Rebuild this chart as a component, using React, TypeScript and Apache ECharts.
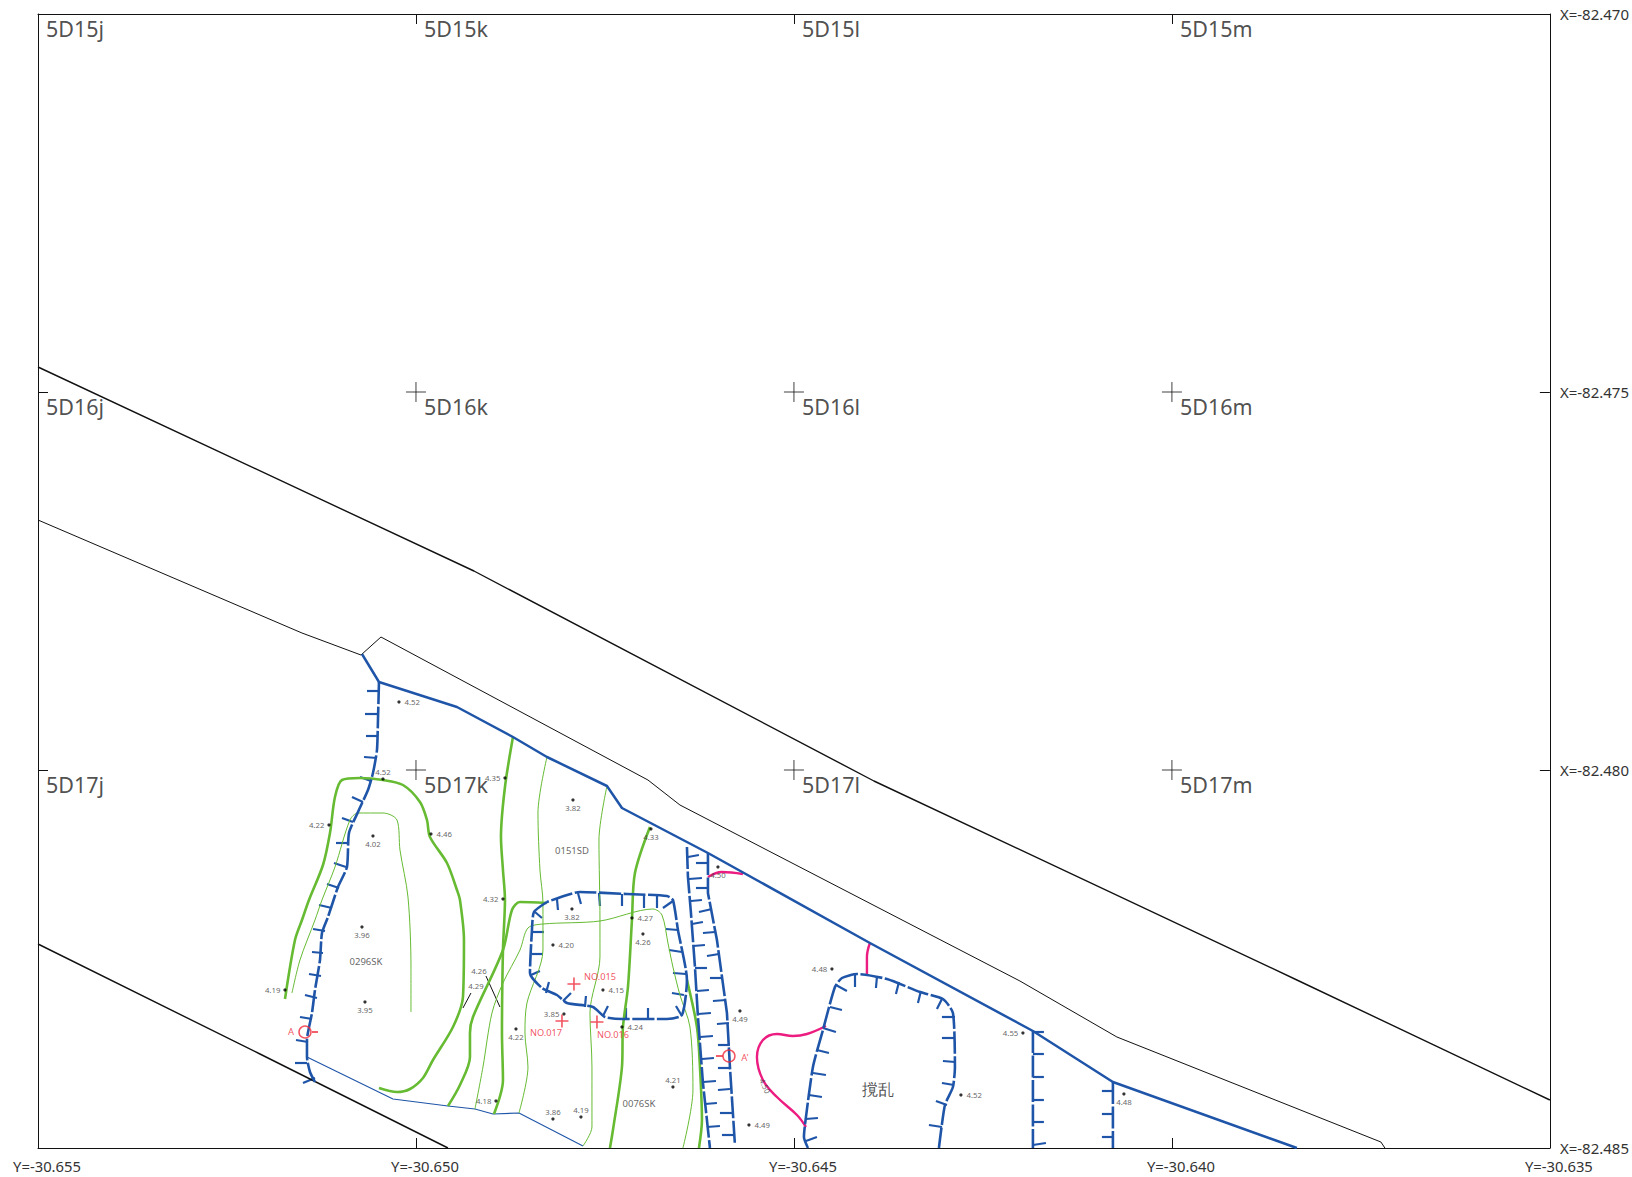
import React, { useEffect, useRef } from "react";
import * as echarts from "echarts";

// Map units: 378 units = one 5 m grid square, measured from the lower-left corner of the sheet.
const gridStep = 378;
const yTickLabels = ["Y=-30.655", "Y=-30.650", "Y=-30.645", "Y=-30.640", "Y=-30.635"];
const xTickLabels = ["X=-82.485", "X=-82.480", "X=-82.475", "X=-82.470"];
const cellColumns = ["j", "k", "l", "m"];
const cellRows = ["17", "16", "15"];

const boundaryUpper = [[0,781],[436,577],[836,367],[1259,168],[1512,48]];
const boundaryLower = [[0,204],[222,94],[410,0]];
const parcelLine = [[0,628],[264,515],[323,493],[343,511],[610,368],[642,343],[982,167],[1079,111],[1343,6],[1347,0]];
const mainBank = [[324,494],[341,466],[419,441],[475,411],[509,391],[569,362],[584,340],[670,295],[832,205],[995,117],[1075,66],[1259,0]];
const lowerThin = [[269,91],[355,49],[410,42],[437,39],[455,34],[481,35],[545,2]];

const pit0296Edge = [[341,466],[340,428],[339,398],[335,375],[330,358],[320,336],[311,315],[309,281],[300,261],[290,231],[284,215],[282,188],[277,158],[274,135],[269,108],[269,91],[272,76],[277,66]];
const centralPit = [[509,246],[496,236],[494,218],[492,175],[504,160],[519,153],[529,145],[555,141],[567,131],[585,129],[629,129],[644,133],[649,168],[640,218],[635,248],[629,252],[589,254],[542,256],[509,246]];
const trenchLeft = [[649,301],[650,271],[653,235],[657,181],[660,131],[665,65],[672,0]];
const trenchRight = [[670,295],[670,255],[679,208],[689,135],[692,81],[697,3]];
const disturbancePit = [[770,0],[766,11],[767,23],[775,81],[785,118],[797,161],[804,170],[819,174],[849,169],[882,156],[905,149],[915,135],[917,81],[915,61],[907,43],[901,0]];
const verticalA = [[995,117],[995,0]];
const verticalB = [[1075,66],[1075,0]];

const hachures0296 = [[329,457,341,457],[327,434,339,434],[328,412,340,412],[326,391,339,390],[322,371,333,367],[314,351,325,346],[304,330,315,326],[298,305,310,305],[296,285,308,281],[289,264,301,260],[281,243,294,240],[275,219,287,217],[274,196,285,195],[271,174,283,172],[267,153,279,150],[262,131,274,129],[258,108,270,106],[257,85,269,85],[265,65,277,70]];
const hachuresCentral = [[519,249,520,238],[540,255,543,244],[561,255,562,242],[584,254,584,242],[606,253,606,240],[619,252,619,240],[635,247,625,240],[628,219,640,218],[631,198,644,196],[635,175,648,174],[634,155,646,153],[638,142,644,132],[610,140,610,129],[588,140,588,129],[570,142,565,132],[548,152,547,141],[533,155,525,147],[511,166,508,155],[502,177,493,173],[494,194,505,194],[495,216,506,216],[497,236,504,230]];
const hachuresTrenchLeft = [[650,291,661,293],[651,269,664,270],[653,247,664,248],[654,224,665,226],[655,202,667,203],[657,180,669,180],[659,157,671,158],[660,134,673,135],[662,111,675,112],[664,89,676,90],[665,66,678,67],[667,44,679,45],[669,21,682,22]];
const hachuresTrenchRight = [[658,285,670,285],[658,260,670,260],[661,236,674,239],[665,215,677,216],[669,192,681,194],[672,170,684,170],[675,147,688,148],[679,124,691,125],[680,103,692,103],[680,80,692,80],[680,58,692,59],[682,35,694,35],[684,13,696,13]];
const hachuresDisturbance = [[779,11,768,7],[780,30,768,29],[784,51,771,53],[788,73,775,75],[791,95,779,98],[798,116,785,120],[804,138,792,141],[809,157,798,163],[817,161,817,174],[838,160,839,171],[858,154,861,166],[880,145,883,157],[899,139,904,149],[904,131,917,131],[904,110,917,110],[905,87,917,86],[904,65,916,63],[898,47,909,43],[891,23,904,21]];
const hachuresVerticalA = [[995,116,1006,116],[995,94,1006,94],[995,71,1006,71],[995,48,1006,48],[995,26,1006,26],[995,3,1008,5]];
const hachuresVerticalB = [[1064,57,1075,57],[1064,34,1075,34],[1064,11,1075,11]];

const green0296Outer = [[247,149],[257,208],[264,228],[271,248],[285,283],[292,315],[297,351],[304,368],[322,370],[345,368],[365,363],[382,346],[389,328],[392,311],[409,285],[419,258],[422,248],[426,208],[425,151],[415,121],[395,88],[385,70],[372,59],[359,56],[341,60]];
const greenA = [[475,411],[467,361],[463,311],[465,278],[467,248],[465,198],[464,115],[465,68],[456,34]];
const greenB = [[509,245],[482,246],[474,238],[465,198],[435,131],[432,115],[432,91],[422,63],[410,42]];
const greenE = [[612,321],[597,275],[594,228],[590,161],[585,121],[584,81],[575,18],[572,0]];
const greenG = [[649,168],[659,121],[662,81],[664,28],[661,0]];
const green0296Inner = [[254,155],[262,188],[277,228],[284,248],[297,281],[312,328],[320,335],[345,335],[359,328],[362,298],[370,251],[373,181],[373,136]];
const greenThinC = [[509,391],[500,335],[502,278],[505,245],[505,198],[489,145],[487,115],[490,81],[481,35]];
const greenThinD = [[569,362],[561,308],[562,228],[562,191],[552,135],[554,81],[554,21],[545,2]];
const greenThinF = [[437,39],[445,81],[454,135],[465,165],[482,198],[490,220],[505,224],[562,227],[615,239],[624,233],[630,205],[635,181],[642,153],[652,121],[655,58],[645,0]];

const pinkA = [[670,271],[684,276],[705,274]];
const pinkB = [[832,205],[829,191],[829,173]];
const pinkLoop = [[788,122],[769,114],[755,112],[739,114],[725,108],[719,91],[725,68],[739,51],[759,33],[768,21]];

const leaders = [[448,172,462,141],[433,155,425,140]];

const spotsRight = [[361,446,"4.52"],[393,314,"4.46"],[594,230,"4.27"],[515,203,"4.20"],[565,158,"4.15"],[584,121,"4.24"],[711,23,"4.49"],[923,53,"4.52"]];
const spotsLeft = [[291,323,"4.22"],[467,370,"4.35"],[465,249,"4.32"],[247,158,"4.19"],[526,134,"3.85"],[458,47,"4.18"],[794,179,"4.48"],[985,115,"4.55"]];
const spotsBelow = [[335,312,"4.02"],[535,348,"3.82"],[613,319,"4.33"],[534,239,"3.82"],[605,214,"4.26"],[324,221,"3.96"],[327,146,"3.95"],[478,119,"4.22"],[680,281,"4.50"],[702,137,"4.49"],[1086,54,"4.48"]];
const spotsAbove = [[345,369,"4.52"],[515,29,"3.86"],[543,31,"4.19"],[635,61,"4.21"]];
const leaderSpotTexts = [[441,177,"4.26"],[438,162,"4.29"]];

const featureNames = [[328,187,"0296SK"],[601,45,"0076SK"],[534,298,"0151SD"]];
const disturbanceName = [[840,59,"撹乱"]];
const sampleNames = [[562,172,"NO.015"],[575,114,"NO.016"],[508,116,"NO.017"]];
const samplePoints = [[536,164],[524,127],[559,126]];
const sectionPoints = [[267,116],[691,92]];
const sectionTicks = [[274,116,280,116],[678,92,685,92]];
const sectionNames = [[253,117,"A"],[707,91,"A'"]];
const rotatedNote = [[727,62,"4.50"]];

const BLUE = "#1f55a8";
const GREEN = "#66bb33";
const PINK = "#ec1c80";
const RED = "#ee2a3a";
const BLACK = "#111111";
const TEXT = "#3c3c3c";
const FONT = "'Noto Sans', sans-serif";
const CROSS = "path://M0 10H20M10 0V20";

const polyline = (name: string, data: number[][], color: string, width: number, extra: any = {}) => ({
  type: "line", name, data, symbol: "none", silent: true, z: extra.z ?? 3,
  smooth: extra.smooth ?? false,
  lineStyle: { color, width, type: extra.dash ?? "solid", cap: "butt", join: "round" },
});
const segments = (name: string, data: number[][], color: string, width: number) => ({
  type: "lines", name, coordinateSystem: "cartesian2d", polyline: false, silent: true, z: 3,
  data: data.map((s) => ({ coords: [[s[0], s[1]], [s[2], s[3]]] })),
  lineStyle: { color, width, opacity: 1, curveness: 0 },
});
const texts = (name: string, data: any[], size: number, color: string, extra: any = {}) => ({
  type: "scatter", name, symbolSize: 0, silent: true, z: 6,
  data: data.map((d) => ({ value: [d[0], d[1]], name: d[2] })),
  label: { show: true, position: "inside", formatter: "{b}", fontFamily: FONT, fontSize: size, color, ...extra },
});
const spots = (name: string, data: any[], position: string, distance: number) => ({
  type: "scatter", name, symbolSize: 3.2, silent: true, z: 5,
  itemStyle: { color: "#000" },
  data: data.map((d) => ({ value: [d[0], d[1]], name: d[2] })),
  label: { show: true, position, distance, formatter: "{b}", fontFamily: FONT, fontSize: 7.8, color: TEXT },
});

export default function App() {
  const ref = useRef<HTMLDivElement>(null);
  useEffect(() => {
    const chart = echarts.init(ref.current!, null, { renderer: "svg" });
    const gridX = yTickLabels.map((_, i) => i * gridStep);
    const gridY = xTickLabels.map((_, i) => i * gridStep);
    const crosses: number[][] = [];
    gridX.slice(1, -1).forEach((x) => gridY.slice(1, -1).forEach((y) => crosses.push([x, y])));
    const cells: any[] = [];
    cellColumns.forEach((c, i) =>
      cellRows.forEach((r, j) => cells.push({ value: [gridX[i], gridY[j + 1]], name: `5D${r}${c}` }))
    );
    const common = {
      type: "value", min: 0, interval: gridStep, splitLine: { show: false },
      axisLine: { show: true, onZero: false, lineStyle: { color: BLACK, width: 1 } },
      axisTick: { show: true, inside: true, length: 10, lineStyle: { color: BLACK, width: 1 } },
    };
    chart.setOption({
      animation: false,
      backgroundColor: "#ffffff",
      grid: { left: 38, top: 14, width: 1512, height: 1134, containLabel: false },
      xAxis: [
        {
          ...common, max: gridStep * 4, position: "bottom",
          axisLabel: {
            show: true, margin: 10, padding: [0, 0, 0, 18], fontFamily: FONT, fontSize: 14.8, color: "#333333",
            showMinLabel: true, showMaxLabel: true,
            formatter: (v: number) => yTickLabels[Math.round(v / gridStep)],
          },
        },
        { ...common, max: gridStep * 4, position: "top", axisLabel: { show: false } },
      ],
      yAxis: [
        { ...common, max: gridStep * 3, position: "left", axisLabel: { show: false } },
        {
          ...common, max: gridStep * 3, position: "right",
          axisLabel: {
            show: true, margin: 10, fontFamily: FONT, fontSize: 15, color: "#333333",
            showMinLabel: true, showMaxLabel: true,
            formatter: (v: number) => xTickLabels[Math.round(v / gridStep)],
          },
        },
      ],
      series: [
        polyline("boundaryUpper", boundaryUpper, BLACK, 1.4),
        polyline("boundaryLower", boundaryLower, BLACK, 1.4),
        polyline("parcelLine", parcelLine, BLACK, 1),
        polyline("lowerThin", lowerThin, BLUE, 1.1),
        polyline("green0296Outer", green0296Outer, GREEN, 2.6, { smooth: 0.3 }),
        polyline("greenA", greenA, GREEN, 2.6, { smooth: 0.3 }),
        polyline("greenB", greenB, GREEN, 2.6, { smooth: 0.3 }),
        polyline("greenE", greenE, GREEN, 2.6, { smooth: 0.3 }),
        polyline("greenG", greenG, GREEN, 2.6, { smooth: 0.3 }),
        polyline("green0296Inner", green0296Inner, GREEN, 1, { smooth: 0.3 }),
        polyline("greenThinC", greenThinC, GREEN, 1, { smooth: 0.3 }),
        polyline("greenThinD", greenThinD, GREEN, 1, { smooth: 0.3 }),
        polyline("greenThinF", greenThinF, GREEN, 1, { smooth: 0.3 }),
        polyline("pinkA", pinkA, PINK, 2.4, { smooth: 0.4 }),
        polyline("pinkB", pinkB, PINK, 2.4, { smooth: 0.4 }),
        polyline("pinkLoop", pinkLoop, PINK, 2.4, { smooth: 0.4 }),
        polyline("mainBank", mainBank, BLUE, 2.5, { z: 4 }),
        polyline("pit0296Edge", pit0296Edge, BLUE, 2.6, { smooth: 0.2, dash: [22, 2.5], z: 4 }),
        polyline("centralPit", centralPit, BLUE, 2.6, { smooth: 0.2, dash: [22, 2.5], z: 4 }),
        polyline("trenchLeft", trenchLeft, BLUE, 2.6, { dash: [22, 2.5], z: 4 }),
        polyline("trenchRight", trenchRight, BLUE, 2.6, { dash: [22, 2.5], z: 4 }),
        polyline("disturbancePit", disturbancePit, BLUE, 2.6, { smooth: 0.2, dash: [22, 2.5], z: 4 }),
        polyline("verticalA", verticalA, BLUE, 2.6, { dash: [22, 2.5], z: 4 }),
        polyline("verticalB", verticalB, BLUE, 2.6, { dash: [22, 2.5], z: 4 }),
        segments("hachures0296", hachures0296, BLUE, 2.2),
        segments("hachuresCentral", hachuresCentral, BLUE, 2.2),
        segments("hachuresTrenchLeft", hachuresTrenchLeft, BLUE, 2.2),
        segments("hachuresTrenchRight", hachuresTrenchRight, BLUE, 2.2),
        segments("hachuresDisturbance", hachuresDisturbance, BLUE, 2.2),
        segments("hachuresVerticalA", hachuresVerticalA, BLUE, 2.2),
        segments("hachuresVerticalB", hachuresVerticalB, BLUE, 2.2),
        segments("leaders", leaders, BLACK, 1),
        segments("sectionTicks", sectionTicks, RED, 1.5),
        {
          type: "scatter", name: "gridCrosses", data: crosses, symbol: CROSS, symbolSize: 20, silent: true, z: 2,
          itemStyle: { color: "none", borderColor: BLACK, borderWidth: 1 },
        },
        {
          type: "scatter", name: "samplePoints", data: samplePoints, symbol: CROSS, symbolSize: 13, silent: true, z: 5,
          itemStyle: { color: "none", borderColor: RED, borderWidth: 1.6 },
        },
        {
          type: "scatter", name: "sectionPoints", data: sectionPoints, symbol: "circle", symbolSize: 12, silent: true, z: 5,
          itemStyle: { color: "none", borderColor: RED, borderWidth: 1.5 },
        },
        {
          type: "scatter", name: "cells", data: cells, symbolSize: 0, silent: true, z: 6,
          label: {
            show: true, formatter: "{b}", position: [8, 14], align: "left", verticalAlign: "middle",
            fontFamily: FONT, fontSize: 21.5, color: "#222222",
          },
        },
        spots("spotsRight", spotsRight, "right", 4),
        spots("spotsLeft", spotsLeft, "left", 3),
        spots("spotsBelow", spotsBelow, "bottom", 2),
        spots("spotsAbove", spotsAbove, "top", 1.5),
        texts("leaderSpotTexts", leaderSpotTexts, 7.8, TEXT),
        texts("featureNames", featureNames, 9.5, TEXT),
        texts("disturbanceName", disturbanceName, 16, "#222222"),
        texts("sampleNames", sampleNames, 9.2, RED),
        texts("sectionNames", sectionNames, 9.5, RED),
        texts("rotatedNote", rotatedNote, 7.8, TEXT, { rotate: -65 }),
      ],
    });
    return () => chart.dispose();
  }, []);
  return <div ref={ref} style={{ position: "absolute", left: 0, top: 0, width: 1632, height: 1177 }} />;
}
